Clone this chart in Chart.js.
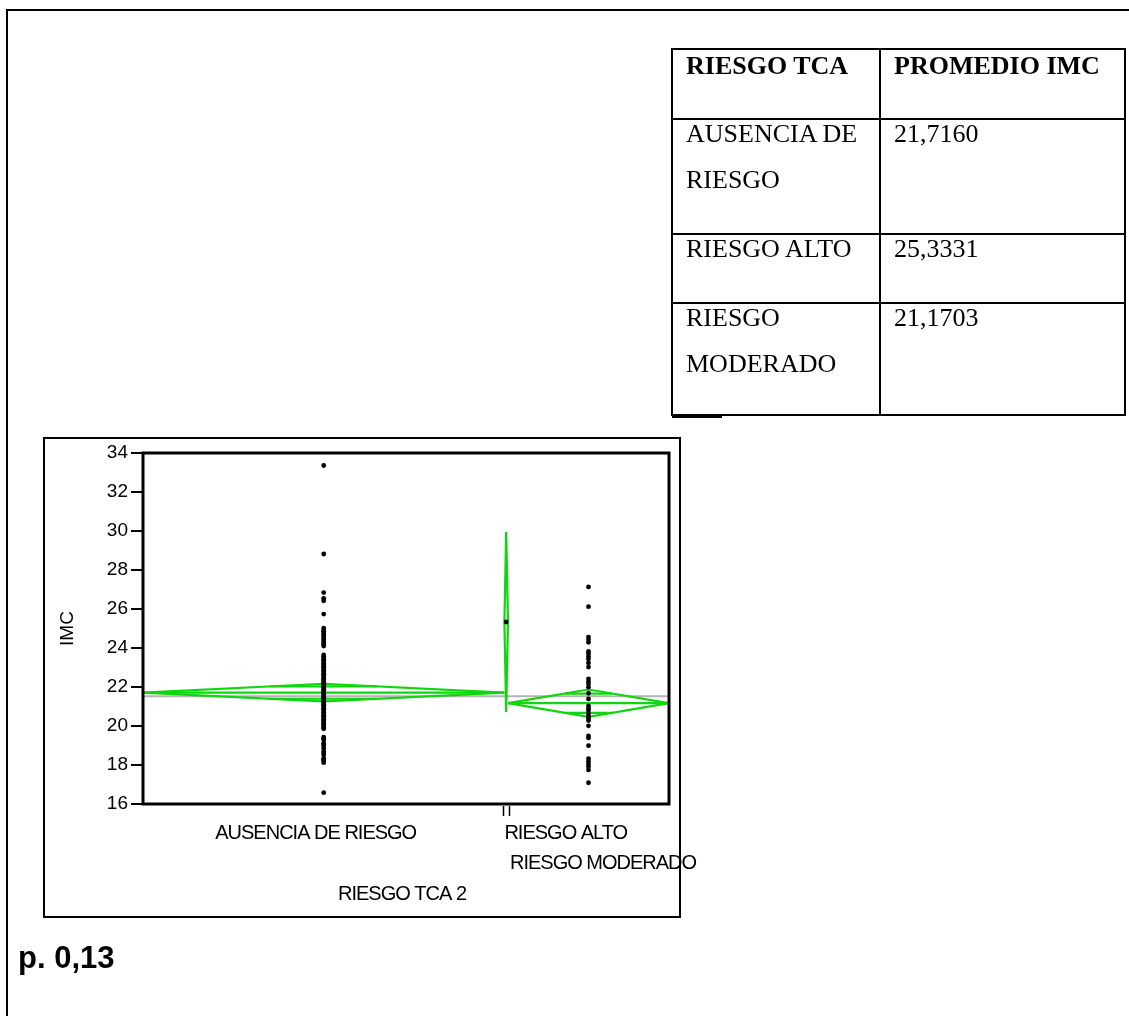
<!DOCTYPE html>
<html>
<head>
<meta charset="utf-8">
<script src="https://cdn.jsdelivr.net/npm/chart.js@4.4.1/dist/chart.umd.min.js"></script>
<style>
  html, body { margin: 0; padding: 0; background: #fff; }
  body { width: 1129px; height: 1016px; position: relative; overflow: hidden;
         font-family: "Liberation Sans", Arial, sans-serif; }
  #page { position: absolute; left: 6px; top: 9px; width: 1300px; height: 1200px;
          border-left: 2px solid #000; border-top: 2px solid #000; }
  #plotBox { position: absolute; left: 43px; top: 437px; width: 638px; height: 481px;
             border: 2px solid #000; box-sizing: border-box; }
  #chartWrap { position: absolute; left: 0; top: 0; width: 1129px; height: 1016px; }
  #tca { position: absolute; left: 671px; top: 48px; width: 455px; height: 368px;
         border: 2px solid #000; box-sizing: border-box;
         font-family: "Liberation Serif", "Times New Roman", serif; font-size: 26px; color: #000; }
  .hline { position: absolute; left: 0; right: 0; height: 2px; background: #000; }
  .vline { position: absolute; top: 0; bottom: 0; width: 2px; background: #000; }
  .cell { position: absolute; line-height: 46px; white-space: nowrap; }
  .head { font-weight: bold; }
  #pval { position: absolute; left: 18px; top: 940px; font-weight: bold; font-size: 31px;
          font-family: "Liberation Sans", Arial, sans-serif; }
</style>
</head>
<body>
<div id="page"></div>
<div id="plotBox"></div>
<div id="chartWrap"><canvas id="c" width="1129" height="1016"></canvas></div>
<div id="tca"></div>
<div id="pval">p. 0,13</div>

<script>
// ---- data ----
const categories = ['AUSENCIA DE RIESGO', 'RIESGO ALTO', 'RIESGO MODERADO'];
const tableLabels = [['AUSENCIA DE', 'RIESGO'], ['RIESGO ALTO'], ['RIESGO', 'MODERADO']];
const groupN = [101, 1, 45];                 // observations per group (sets group widths)
const meanIMC = [21.7160, 25.3331, 21.1703]; // group means of IMC
const ciHalf = [0.45, 4.62, 0.70];           // half-width of 95% CI for each mean
const grandMean = 21.52;
const yTicks = [16, 18, 20, 22, 24, 26, 28, 30, 32, 34];

const imcAusencia = [
  33.36, 28.82, 26.84, 26.55, 26.42, 25.74,
  25.02, 24.93, 24.86, 24.77, 24.69, 24.61, 24.52, 24.44, 24.36, 24.27, 24.19, 24.10,
  23.64, 23.57, 23.49, 23.42, 23.36, 23.28, 23.21, 23.15, 23.07, 23.01, 22.93, 22.86,
  22.79, 22.71, 22.65, 22.58, 22.51, 22.44, 22.37, 22.31, 22.24, 22.17, 22.09, 22.03,
  21.96, 21.88, 21.81, 21.74, 21.68, 21.61, 21.54, 21.47, 21.40, 21.33, 21.27, 21.19,
  21.12, 21.06, 20.98, 20.91, 20.84, 20.77, 20.70, 20.63, 20.55, 20.49, 20.42, 20.35,
  20.28, 20.21, 20.14, 20.07, 20.00, 19.92, 19.86,
  19.43, 19.36, 19.29, 19.12, 19.05, 18.98, 18.84, 18.69, 18.61, 18.52, 18.35, 18.28,
  18.22, 18.12,
  16.58
];
const imcAlto = [25.3331];
const imcModerado = [
  27.13, 26.12, 24.56, 24.42, 24.29, 23.82, 23.70, 23.57, 23.43, 23.23,
  23.02, 22.42, 22.28, 22.15, 21.99, 21.68, 21.39, 21.03, 20.90, 20.79,
  20.62, 20.48, 20.38, 20.28, 20.01, 19.49, 19.39, 18.99, 18.33, 18.19,
  18.05, 17.92, 17.75, 17.09
];
const groupValues = [imcAusencia, imcAlto, imcModerado];

// ---- table of means ----
(function buildTable() {
  const tbl = document.getElementById('tca');
  const rowLines = [68, 183, 252];   // y of inner horizontal rules
  const colLine = 206;
  rowLines.forEach(y => { const d = document.createElement('div'); d.className = 'hline'; d.style.top = y + 'px'; tbl.appendChild(d); });
  const v = document.createElement('div'); v.className = 'vline'; v.style.left = colLine + 'px'; tbl.appendChild(v);
  const rowTops = [0, 68, 183, 252];
  const addCell = (lines, x, y, cls) => {
    const d = document.createElement('div');
    d.className = 'cell' + (cls ? ' ' + cls : '');
    d.style.left = x + 'px'; d.style.top = (y - 7) + 'px';
    d.innerHTML = lines.join('<br>');
    tbl.appendChild(d);
  };
  addCell(['RIESGO TCA'], 13, rowTops[0], 'head');
  addCell(['PROMEDIO IMC'], colLine + 15, rowTops[0], 'head');
  tableLabels.forEach((lab, i) => {
    addCell(lab, 13, rowTops[i + 1]);
    addCell([meanIMC[i].toFixed(4).replace('.', ',')], colLine + 15, rowTops[i + 1]);
  });
  const q = document.createElement('div');
  q.style.cssText = 'position:absolute;left:-1px;top:366px;width:50px;height:1.5px;background:#000;';
  tbl.appendChild(q);
})();

// ---- group geometry on the x axis (width proportional to n) ----
const bounds = [0];
groupN.forEach(n => bounds.push(bounds[bounds.length - 1] + n));
const total = bounds[bounds.length - 1];
const centers = groupN.map((n, i) => (bounds[i] + bounds[i + 1]) / 2);

const GREEN = 'rgb(16,214,16)';
const lineDs = (data, color, width, order) => ({
  type: 'scatter', data, showLine: true, borderColor: color, borderWidth: width,
  pointRadius: 0, pointHoverRadius: 0, fill: false, tension: 0, order
});

const datasets = [];
// observations
groupValues.forEach((vals, i) => {
  datasets.push({
    type: 'scatter',
    data: vals.map(v => ({ x: centers[i], y: v })),
    pointRadius: 2.4, pointBorderWidth: 0, backgroundColor: '#000', borderColor: '#000',
    order: 0
  });
});
// means diamonds
meanIMC.forEach((m, i) => {
  const x0 = bounds[i], x1 = bounds[i + 1], xc = centers[i], h = ciHalf[i];
  const hw = (x1 - x0) / 2;
  datasets.push(lineDs([{x:x0,y:m},{x:xc,y:m+h},{x:x1,y:m},{x:xc,y:m-h},{x:x0,y:m}], GREEN, 2.2, 1));
  datasets.push(lineDs([{x:x0,y:m},{x:x1,y:m}], GREEN, 2.2, 1));
  const k = 1 - Math.SQRT1_2, o = h * Math.SQRT1_2;
  datasets.push(lineDs([{x:xc-hw*k,y:m+o},{x:xc+hw*k,y:m+o}], GREEN, 2.2, 1));
  datasets.push(lineDs([{x:xc-hw*k,y:m-o},{x:xc+hw*k,y:m-o}], GREEN, 2.2, 1));
});
// overall mean
datasets.push(lineDs([{x:0,y:grandMean},{x:total,y:grandMean}], '#b4b4b4', 2, 2));

const FONT = '"Liberation Sans", Arial, sans-serif';

const decorations = {
  id: 'decorations',
  afterDraw(chart) {
    const { ctx, chartArea: a, scales: { x } } = chart;
    ctx.save();
    // plot frame
    ctx.strokeStyle = '#000'; ctx.lineWidth = 3;
    ctx.strokeRect(a.left, a.top, a.right - a.left, a.bottom - a.top);
    // marks at inner group boundaries
    ctx.lineWidth = 1.5;
    for (let i = 1; i < bounds.length - 1; i++) {
      const raw = x.getPixelForValue(bounds[i]);
      const px = (i === 1 ? Math.floor(raw) - 1 : Math.ceil(raw) + 1) + 0.5;
      ctx.beginPath(); ctx.moveTo(px, a.bottom + 2); ctx.lineTo(px, a.bottom + 12); ctx.stroke();
    }
    // category labels
    ctx.fillStyle = '#000';
    ctx.font = '20px ' + FONT;
    ctx.textBaseline = 'alphabetic';
    if ('letterSpacing' in ctx) ctx.letterSpacing = '-1px';
    ctx.textAlign = 'center';
    ctx.fillText(categories[0], x.getPixelForValue(centers[0]) - 8, a.bottom + 35);
    ctx.textAlign = 'left';
    ctx.fillText(categories[1], x.getPixelForValue(bounds[1]), a.bottom + 35);
    ctx.fillText(categories[2], x.getPixelForValue(bounds[2]) + 2, a.bottom + 65);
    // axis title
    ctx.textAlign = 'center';
    ctx.fillText('RIESGO TCA 2', 402, a.bottom + 96);
    ctx.restore();
  }
};

new Chart(document.getElementById('c'), {
  data: { datasets },
  options: {
    responsive: false,
    animation: false,
    events: [],
    layout: { padding: { left: 43, top: 453, right: 460, bottom: 212 } },
    plugins: { legend: { display: false }, tooltip: { enabled: false } },
    scales: {
      x: { type: 'linear', min: 0, max: total, display: false },
      y: {
        type: 'linear', min: yTicks[0], max: yTicks[yTicks.length - 1],
        afterFit(s) { s.width = 100; },
        afterBuildTicks(s) { s.ticks = yTicks.map(v => ({ value: v })); },
        border: { display: false },
        grid: { display: true, drawOnChartArea: false, drawTicks: true, tickLength: 12,
                color: '#000', lineWidth: 2 },
        ticks: { color: '#000', padding: 3, font: { family: FONT, size: 19 } },
        title: { display: true, text: 'IMC', color: '#000', padding: { top: 13 },
                 font: { family: FONT, size: 19 } }
      }
    }
  },
  plugins: [decorations]
});
</script>
</body>
</html>
